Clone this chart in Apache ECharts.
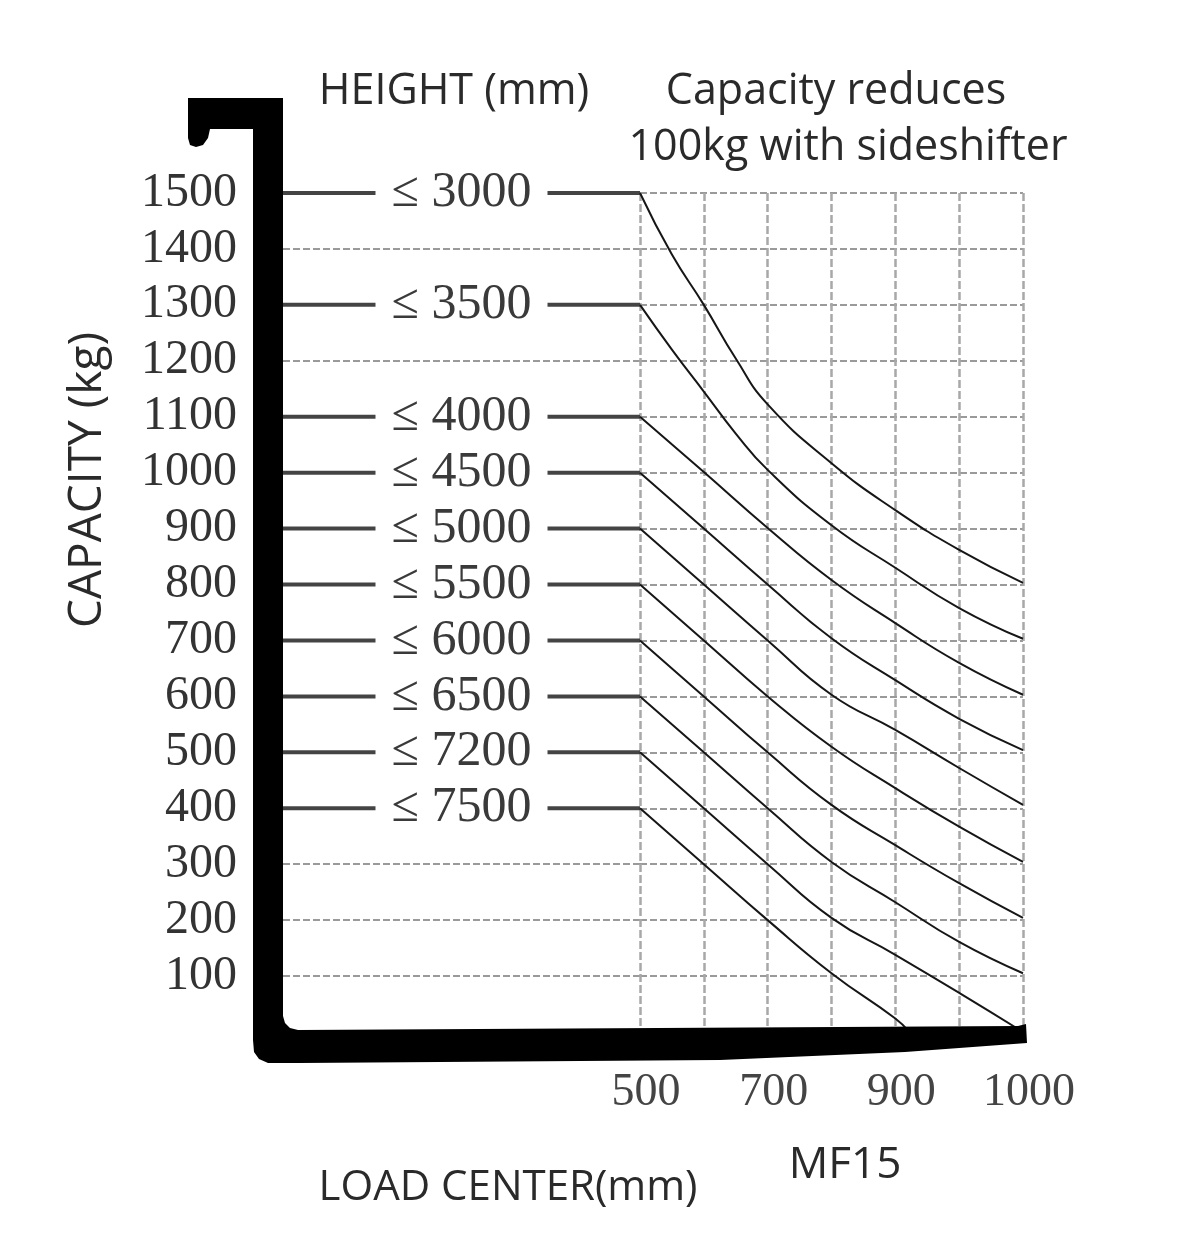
<!DOCTYPE html>
<html>
<head>
<meta charset="utf-8">
<script src="https://cdn.jsdelivr.net/npm/echarts@6/dist/echarts.min.js"></script>
<style>
html,body{margin:0;padding:0;background:#fff;}
#chart{width:1182px;height:1241px;}
</style>
</head>
<body>
<div id="chart"></div>
<script>
// ---- data ----
const loadCenterTicks = ['500', '', '700', '', '900', '', '1000']; // at grid columns 0..6
const heightLabels = ['≤ 3000', '≤ 3500', '≤ 4000', '≤ 4500', '≤ 5000', '≤ 5500', '≤ 6000', '≤ 6500', '≤ 7200', '≤ 7500'];
const ratedCapacity = [1500, 1300, 1100, 1000, 900, 800, 700, 600, 500, 400];

const curve3000 = [[0, 1500], [0.5, 1390], [1, 1300], [1.5, 1204], [2, 1122], [3, 1017], [4, 933], [5, 862], [6, 803]];
const curve3500 = [[0, 1300], [0.5, 1220], [1, 1145], [1.5, 1070], [2, 1005], [3, 906], [4, 830], [5, 758], [6, 703]];
const curve4000 = [[0, 1100], [1, 1001], [2, 901], [3, 808], [4, 731], [5, 660], [6, 603]];
const curve4500 = [[0, 1000], [1, 900], [2, 800], [3, 704], [4, 629], [5, 560], [6, 504]];
const curve5000 = [[0, 900], [1, 800], [2, 700], [3, 603], [4, 540], [5, 472], [6, 406]];
const curve5500 = [[0, 800], [1, 700], [2, 600], [3, 510], [4, 436], [5, 367], [6, 304]];
const curve6000 = [[0, 700], [1, 600], [2, 500], [3, 406], [4, 334], [5, 266], [6, 204]];
const curve6500 = [[0, 600], [1, 500], [2, 400], [3, 304], [4, 232], [5, 161], [6, 105]];
const curve7200 = [[0, 500], [1, 400], [2, 300], [3, 204], [4, 138], [5, 70], [6, 0]];
const curve7500 = [[0, 400], [1, 300], [2, 200], [3, 105], [4, 24], [4.22, 0]];
const curves = [curve3000, curve3500, curve4000, curve4500, curve5000, curve5500, curve6000, curve6500, curve7200, curve7500];

// ---- chart ----
const chart = echarts.init(document.getElementById('chart'), null, {renderer: 'canvas'});
const serif = '"Liberation Serif", "DejaVu Serif", serif';
const sans = '"Open Sans", "Noto Sans", sans-serif';

const series = [];
ratedCapacity.forEach((cap, i) => {
  series.push({
    type: 'line', xAxisIndex: 0, yAxisIndex: 0, silent: true, symbol: 'none', z: 3,
    lineStyle: {color: '#444', width: 4},
    data: [[0, cap], [1, cap]]
  });
  series.push({
    type: 'scatter', xAxisIndex: 0, yAxisIndex: 0, silent: true, z: 6,
    symbol: 'rect', symbolSize: [172, 40],
    itemStyle: {color: '#fff', opacity: 1},
    label: {
      show: true, position: 'inside', formatter: heightLabels[i],
      fontFamily: serif, fontSize: 50, color: '#3a3a3a'
    },
    data: [[0.5, cap]]
  });
});
curves.forEach((c) => {
  series.push({
    type: 'line', xAxisIndex: 1, yAxisIndex: 1, silent: true, symbol: 'none', z: 4,
    smooth: 0.5,
    lineStyle: {color: '#161616', width: 2},
    data: c
  });
});

const hSplit = {show: true, lineStyle: {color: '#7a7a7a', width: 1.6, type: [7, 3]}};

const option = {
  backgroundColor: '#fff',
  animation: false,
  grid: [
    {left: 283, right: 542, top: 193, bottom: 209},
    {left: 640, right: 159, top: 193, bottom: 209}
  ],
  xAxis: [
    {gridIndex: 0, type: 'value', min: 0, max: 1, show: false},
    {
      gridIndex: 1, type: 'value', min: 0, max: 6, interval: 1,
      axisLine: {show: false}, axisTick: {show: false},
      axisLabel: {
        margin: 38, fontFamily: serif, fontSize: 46, color: '#444',
        padding: [0, 0, 0, 12],
        formatter: (v) => loadCenterTicks[Math.round(v)] || ''
      },
      splitLine: {show: true, lineStyle: {color: '#a8a8a8', width: 2.5, type: [8, 3]}}
    }
  ],
  yAxis: [
    {
      gridIndex: 0, type: 'value', min: 0, max: 1500, interval: 100,
      axisLine: {show: false}, axisTick: {show: false},
      axisLabel: {
        margin: 46, fontFamily: serif, fontSize: 48, color: '#333',
        padding: [6, 0, 0, 0],
        formatter: (v) => (v === 0 ? '' : String(v))
      },
      splitLine: hSplit
    },
    {
      gridIndex: 1, type: 'value', min: 0, max: 1500, interval: 100,
      axisLine: {show: false}, axisTick: {show: false}, axisLabel: {show: false},
      splitLine: hSplit
    }
  ],
  series: series,
  graphic: [
    {
      type: 'polygon', z: 100, silent: true,
      shape: {points: [
        [188, 98], [283, 98], [283, 1016], [285, 1023], [290, 1028], [298, 1030],
        [1018, 1026], [1026, 1024], [1027, 1043], [905, 1052], [720, 1060], [300, 1063],
        [268, 1063], [259, 1059], [254, 1052], [253, 1040], [253, 129], [210, 129],
        [208, 138], [203, 145], [196, 147], [190, 145], [188, 138]
      ]},
      style: {fill: '#000'}
    },
    {type: 'text', z: 100, x: 454, y: 92, style: {text: 'HEIGHT (mm)', font: '43px ' + sans, fill: '#2a2a2a', textAlign: 'center', textVerticalAlign: 'middle'}},
    {type: 'text', z: 100, x: 836, y: 92, style: {text: 'Capacity reduces', font: '43px ' + sans, fill: '#2a2a2a', textAlign: 'center', textVerticalAlign: 'middle'}},
    {type: 'text', z: 100, x: 848, y: 148, style: {text: '100kg with sideshifter', font: '43px ' + sans, fill: '#2a2a2a', textAlign: 'center', textVerticalAlign: 'middle'}},
    {type: 'text', z: 100, x: 88, y: 480, rotation: Math.PI / 2, style: {text: 'CAPACITY (kg)', font: '46px ' + sans, fill: '#2a2a2a', textAlign: 'center', textVerticalAlign: 'middle'}},
    {type: 'text', z: 100, x: 508, y: 1188, style: {text: 'LOAD CENTER(mm)', font: '42px ' + sans, fill: '#2a2a2a', textAlign: 'center', textVerticalAlign: 'middle'}},
    {type: 'text', z: 100, x: 845, y: 1165, style: {text: 'MF15', font: '44px ' + sans, fill: '#2a2a2a', textAlign: 'center', textVerticalAlign: 'middle'}}
  ]
};
chart.setOption(option);
</script>
</body>
</html>
